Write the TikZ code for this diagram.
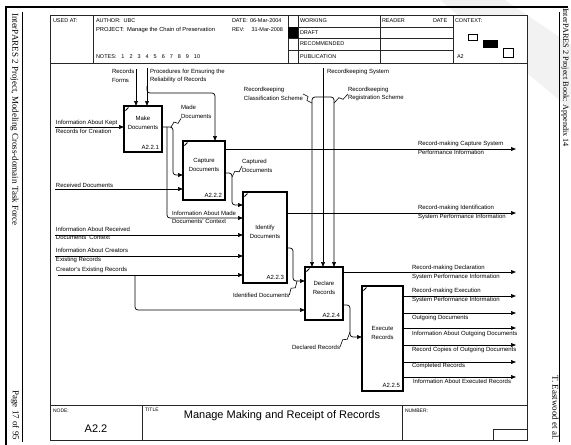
\documentclass[tikz,border=0pt]{standalone}
\usepackage{fontspec}
\setmainfont{Liberation Serif}
\setsansfont{Liberation Sans}
\usetikzlibrary{arrows.meta,calc}
\newcommand\zz[2]{\draw[zzl] #1 -- ($#1!0.42!#2!1.8pt!90:#2$) -- ($#2!0.42!#1!1.8pt!90:#1$) -- #2;}
\newcommand\ngap{\hspace{5pt}}
\begin{document}
\begin{tikzpicture}[x=1pt,y=-1pt,
 every node/.style={inner sep=0pt,outer sep=0pt},
 tx/.style={font=\sffamily\fontsize{6}{8.5}\selectfont,align=left},
 hd/.style={font=\sffamily\fontsize{5.5}{7}\selectfont,anchor=west},
 sm/.style={font=\sffamily\fontsize{5}{6}\selectfont,anchor=west},
 side/.style={font=\rmfamily\fontsize{9}{10}\selectfont,rotate=-90},
 act/.style={draw,line width=1.1pt,anchor=north west},
 btx/.style={font=\sffamily\fontsize{6}{9}\selectfont,align=center},
 num/.style={font=\sffamily\fontsize{6}{7}\selectfont,anchor=south east},
 flow/.style={line width=0.7pt,rounded corners=3pt,-{Triangle[length=5pt,width=3.8pt]}},
 zzl/.style={line width=0.6pt},
 frm/.style={line width=0.9pt,draw=black!85},
 cmark/.style={line width=0.9pt}
]
\useasboundingbox (0,0) rectangle (571,445);
% faint shadow band at top right
\fill[black!5] (440,0) -- (505,0) -- (571,45) -- (571,110) -- cycle;
% page edges
\draw[line width=2.2pt] (6,445) -- (6,7) -- (568,7);
\draw[line width=0.6pt] (22,12) -- (22,442);
\draw[line width=0.6pt] (559,12) -- (559,442);
\node[side,anchor=west] (sL) at (14.5,13) {InterPARES 2 Project, Modeling Cross-domain Task Force};
\node[side,anchor=east] (sP) at (15,440) {Page 17 of 95};
\node[side,anchor=west,font=\rmfamily\fontsize{8.2}{10}\selectfont] (sR) at (565,8) {InterPARES 2 Project Book: Appendix 14};
\node[side,anchor=east] (sE) at (555.5,440) {T. Eastwood et al.};
% frame
\fill[white] (50,15) rectangle (527,440);
\draw[frm] (50,15) rectangle (527,440);
\draw[frm] (50,63) -- (527,63);
\draw[frm] (50,405) -- (527,405);
\draw[frm] (93,15) -- (93,63);
\draw[frm] (288,15) -- (288,63);
\draw[frm] (298,15) -- (298,63);
\draw[frm] (380,15) -- (380,63);
\draw[frm] (453,15) -- (453,63);
\foreach \yy in {27,38,50} \draw[frm] (288,\yy) -- (453,\yy);
\fill (288,27) rectangle (298,38);
\draw[line width=0.6pt] (468,34) rectangle (477,40);
\fill (483,40) rectangle (498,48);
\draw[line width=0.6pt] (503,48) rectangle (513,57);
\draw[frm] (142,405) -- (142,440);
\draw[frm] (402,405) -- (402,440);
\draw[frm] (493,440) -- (493,429) -- (527,429);
% header text
\node[hd] (hU) at (53,21) {USED AT:};
\node[hd] (hA) at (96,21) {AUTHOR:\hspace{3pt}UBC};
\node[hd,font=\sffamily\fontsize{5.8}{7}\selectfont] (hP) at (96,30) {PROJECT:\hspace{3pt}Manage the Chain of Preservation};
\node[hd] (hN) at (96,57) {NOTES:\ngap 1\ngap 2\ngap 3\ngap 4\ngap 5\ngap 6\ngap 7\ngap 8\ngap 9\ngap 10};
\node[hd] (hD) at (232,21) {DATE:};
\node[hd] (hD2) at (250,21) {06-Mar-2004};
\node[hd] (hR) at (232,30) {REV:};
\node[hd] (hR2) at (251.5,30) {31-Mar-2008};
\node[hd] (hW) at (300,21) {WORKING};
\node[hd] (hDr) at (300,32.5) {DRAFT};
\node[hd] (hRe) at (300,44) {RECOMMENDED};
\node[hd] (hPu) at (300,56.5) {PUBLICATION};
\node[hd] (hRd) at (382,21) {READER};
\node[hd] (hDt) at (433,21) {DATE};
\node[hd] (hC) at (455,21) {CONTEXT:};
\node[hd] (hA2) at (457,57) {A2};
% footer
\node[sm] (fN) at (53,411) {NODE:};
\node[font=\sffamily\fontsize{11}{12}\selectfont] (fA) at (96,429) {A2.2};
\node[sm] (fT) at (145,410) {TITLE};
\node[font=\sffamily\fontsize{11}{12}\selectfont] (fTi) at (282,416) {Manage Making and Receipt of Records};
\node[sm] (fNu) at (405,411) {NUMBER:};
% activity boxes
\node[act,minimum width=38pt,minimum height=46pt] (b1) at (124,106) {};
\node[act,minimum width=42pt,minimum height=59pt] (b2) at (183,141) {};
\node[act,minimum width=44pt,minimum height=91pt] (b3) at (243,192) {};
\node[act,minimum width=38pt,minimum height=53pt] (b4) at (305,267) {};
\node[act,minimum width=41pt,minimum height=105pt] (b5) at (362,286) {};
\node[btx] (t1) at ($(b1.north)+(0,16.5)$) {Make\\Documents};
\node[btx] (t2) at ($(b2.north)+(0,23.5)$) {Capture\\Documents};
\node[btx] (t3) at ($(b3.north)+(0,39.5)$) {Identify\\Documents};
\node[btx] (t4) at ($(b4.north)+(0,20.5)$) {Declare\\Records};
\node[btx] (t5) at ($(b5.north)+(0,46.5)$) {Execute\\Records};
\node[num] (n1) at ($(b1.south east)+(-3,-3)$) {A2.2.1};
\node[num] (n2) at ($(b2.south east)+(-3,-3)$) {A2.2.2};
\node[num] (n3) at ($(b3.south east)+(-3,-3)$) {A2.2.3};
\node[num] (n4) at ($(b4.south east)+(-3,-3)$) {A2.2.4};
\node[num] (n5) at ($(b5.south east)+(-3,-3)$) {A2.2.5};
\foreach \b in {b1,b2,b3,b4,b5}
  \draw[cmark] ($(\b.north west)+(1.5,4.5)$) -- ($(\b.north west)+(4.5,1.5)$);
% free ends
\coordinate (in1) at (55,127);
\coordinate (in2) at (55,189);
\coordinate (in3) at (55,235);
\coordinate (in4) at (55,256);
\coordinate (in5) at (58,275);
\coordinate (cRF) at (136,69);
\coordinate (cPR) at (147,68);
\coordinate (cRS) at (323,68);
\coordinate (o1) at (516,149);
\coordinate (o2) at (516,213);
\coordinate (o3) at (516,272);
\coordinate (o4) at (516,296);
\coordinate (o5) at (516,313);
\coordinate (o6) at (516,328);
\coordinate (o7) at (516,345);
\coordinate (o8) at (516,362);
\coordinate (o9) at (516,377);
\coordinate (j1) at (167,127);
\coordinate (j2) at (135,275);
\coordinate (j3) at (147,86);
\coordinate (j4) at (323,97);
% inputs
\draw[flow] (in1) -- (b1.west |- in1);
\draw[flow] (in2) -- (b2.west |- in2);
\draw[flow] (in3) -- (b3.west |- in3);
\draw[flow] (in4) -- (b3.west |- in4);
\draw[flow] (in5) -- (b3.west |- in5);
\draw[flow] (j2) -- (135,310) -- (b4.west |- 0,310);
% controls
\draw[flow] (cRF) -- (b1.north -| cRF);
\draw[flow] (cPR) -- (b1.north -| cPR);
\draw[flow] (j3) -- (147,93) -- (215,93) -- (b2.north -| 215,0);
\draw[flow] (cRS) -- (b4.north -| cRS);
\draw[flow] (j4) -- (312,97) -- (b4.north -| 312,0);
\draw[flow] (j4) -- (334,97) -- (b4.north -| 334,0);
% internal flows
\draw[flow] (b1.east |- in1) -- (173,127) -- (173,175) -- (b2.west |- 0,175);
\draw[flow] (j1) -- (167,218) -- (b3.west |- 0,218);
\draw[flow] (b2.east |- 0,173) -- (232,173) -- (232,205) -- (b3.west |- 0,205);
\draw[flow] (b3.east |- 0,248) -- (293,248) -- (293,281) -- (b4.west |- 0,281);
\draw[flow] (b4.east |- 0,305) -- (350,305) -- (350,337) -- (b5.west |- 0,337);
% outputs
\draw[flow] (b2.east |- o1) -- (o1);
\draw[flow] (b3.east |- o2) -- (o2);
\draw[flow] (b4.east |- o3) -- (o3);
\foreach \o in {o4,o5,o6,o7,o8,o9} \draw[flow] (b5.east |- \o) -- (\o);
% labels
\node[tx,anchor=west] (lin1) at (56,127) {Information About Kept\\Records for Creation};
\node[tx,anchor=south west] (lin2) at (56,187.5) {Received Documents};
\node[tx,anchor=west] (lin3) at (56,233.5) {Information About Received\\Documents' Context};
\node[tx,anchor=west] (lin4) at (56,255.5) {Information About Creators\\Existing Records};
\node[tx,anchor=south west] (lin5) at (56,273) {Creator's Existing Records};
\node[tx,anchor=west] (lmdc) at (172,217.5) {Information About Made\\Documents' Context};
\node[tx,anchor=west] (lrf) at (112,76) {Records\\Forms};
\node[tx,anchor=west] (lpr) at (150,76) {Procedures for Ensuring the\\Reliability of Records};
\node[tx,anchor=west] (lrs) at (327,72) {Recordkeeping System};
\node[tx,anchor=east] (lcs) at (303,94) {Recordkeeping\\Classification Scheme};
\node[tx,anchor=west] (lreg) at (348,94) {Recordkeeping\\Registration Scheme};
\node[tx,anchor=west] (lmade) at (181,112) {Made\\Documents};
\node[tx,anchor=west] (lcap) at (242,166) {Captured\\Documents};
\node[tx,anchor=west] (lid) at (233,295) {Identified Documents};
\node[tx,anchor=west] (ldec) at (292,347) {Declared Records};
\node[tx,anchor=west] (lo1) at (418,148) {Record-making Capture System\\Performance Information};
\node[tx,anchor=west] (lo2) at (418,212.5) {Record-making Identification\\System Performance Information};
\node[tx,anchor=west] (lo3) at (412,272.5) {Record-making Declaration\\System Performance Information};
\node[tx,anchor=west] (lo4) at (412,295.5) {Record-making Execution\\System Performance Information};
\node[tx,anchor=west] (lo5) at (412,318) {Outgoing Documents};
\node[tx,anchor=west] (lo6) at (412,333.5) {Information About Outgoing Documents};
\node[tx,anchor=west] (lo7) at (412,349.5) {Record Copies of Outgoing Documents};
\node[tx,anchor=west] (lo8) at (412,366) {Completed Records};
\node[tx,anchor=west] (lo9) at (413,381.5) {Information About Executed Records};
% squiggles
\zz{(lmade.south west)}{(171,127)}
\zz{(lcap.west)}{(232,177)}
\zz{(lcs.east)}{(312,103)}
\zz{(lreg.west)}{(334,103)}
\zz{(lid.east)}{(297,281)}
\zz{(ldec.east)}{(350,332)}
\end{tikzpicture}
\end{document}
